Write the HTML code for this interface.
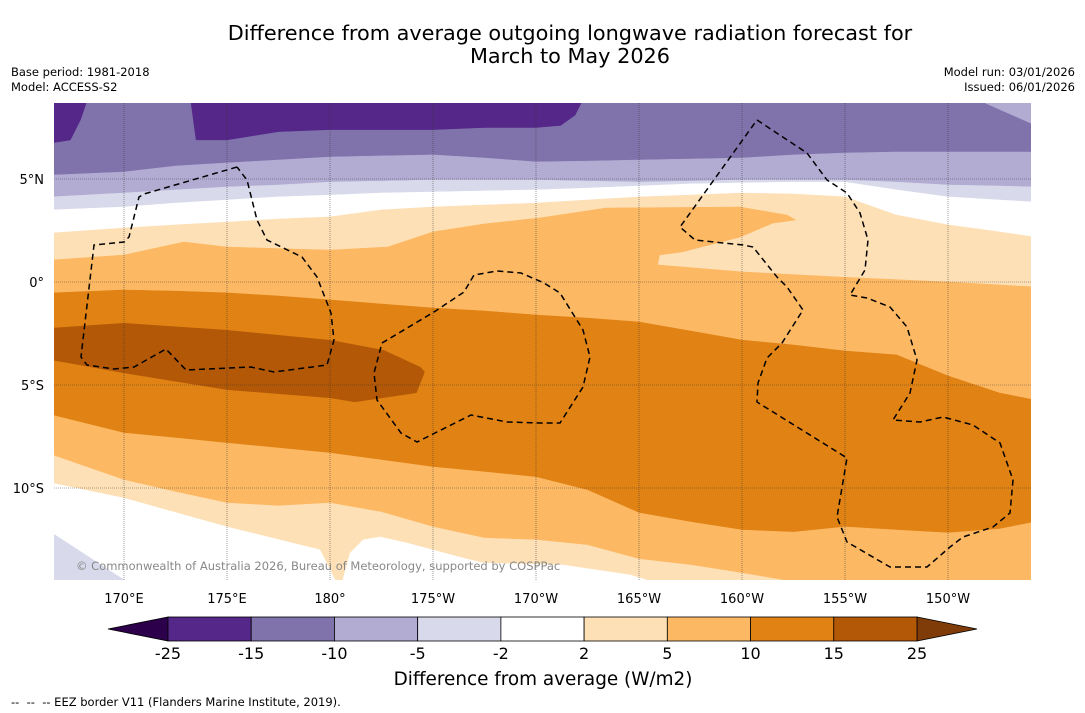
<!DOCTYPE html>
<html><head><meta charset="utf-8">
<style>
body{margin:0;background:#fff;font-family:"DejaVu Sans","Liberation Sans",sans-serif;}
#wrap{position:relative;width:1085px;height:713px;overflow:hidden;background:#fff;}
.t{position:absolute;white-space:nowrap;color:#000;}
</style></head>
<body>
<div id="wrap">
<div class="t" style="left:0;width:1140px;text-align:center;top:22px;font-size:20.8px;line-height:23px;">Difference from average outgoing longwave radiation forecast for<br>March to May 2026</div>
<div class="t" style="left:11px;top:65px;font-size:11.5px;line-height:15px;">Base period: 1981-2018<br>Model: ACCESS-S2</div>
<div class="t" style="right:10px;top:65px;font-size:11.5px;line-height:15px;text-align:right;">Model run: 03/01/2026<br>Issued: 06/01/2026</div>
<svg id="svg" width="1085" height="713" style="position:absolute;left:0;top:0"></svg>
<div class="t" style="left:11px;top:695px;font-size:11.5px;">-- &nbsp;-- &nbsp;-- EEZ border V11 (Flanders Marine Institute, 2019).</div>
</div>
<script>
// ---- data (lon in degrees east 0-360, lat in degrees) ----
const lonTicks=[170,175,180,185,190,195,200,205,210];
const lonTickLabels=["170°E","175°E","180°","175°W","170°W","165°W","160°W","155°W","150°W"];
const latTicks=[5,0,-5,-10];
const latTickLabels=["5°N","0°","5°S","10°S"];
const gridLons=[166.5,170,172.5,175,177.5,180,182.5,185,187.5,190,192.5,195,197.5,200,202.5,205,207.5,210,212.5,214.2];
const levels=[-25,-15,-10,-5,-2,2,5,10,15,25];
const bandColors=["#542788","#8073ac","#b2abd2","#d8daeb","#ffffff","#fee0b6","#fdb863","#e08214","#b35806"];
const dpLons=[166.5,167.4,167.9,168.3,173.2,173.5,175,177.5,180,182.5,185,187.5,190,191.2,191.9,192.4,214.5];
const dpLats=[6.75,6.9,7.9,9.1,9.1,6.9,6.9,7.3,7.4,7.4,7.4,7.5,7.5,7.6,8.1,9.1,9.1];
const trLons=[211.8,214,214.5];
const trLats=[8.69,7.72,7.6];
const c10Lats=[5.19,5.34,5.63,5.78,5.92,6.07,6.12,6.17,6.02,5.83,5.87,5.92,5.97,6.02,6.17,6.26,6.31,6.31,6.31,6.31];
const c5Lats=[4.13,4.32,4.47,4.61,4.71,4.85,4.90,4.95,4.95,4.95,4.90,4.85,4.90,4.95,4.95,4.95,4.85,4.71,4.66,4.61];
const c2Lats=[3.50,3.64,3.83,3.98,4.13,4.22,4.32,4.37,4.42,4.47,4.56,4.66,4.76,4.81,4.85,4.85,4.47,4.13,3.98,3.88];
const p2Lats=[2.38,2.62,2.77,2.91,3.06,3.16,3.50,3.64,3.74,3.83,3.98,4.13,4.22,4.32,4.27,4.13,3.25,2.77,2.43,2.18];
const p5Lons=[166.5,170,172.9,175,180,182.8,185,187.5,190.2,193.4,199.9,202.2,202.6,201.5,199.9,197.1,196.0,195.9,200,204.8,210,214.2];
const p5Lats=[1.07,1.31,1.94,1.70,1.55,1.70,2.43,2.82,3.11,3.59,3.64,3.25,3.01,2.86,2.18,1.46,1.31,0.83,0.49,0.24,0,-0.24];
const p10Lats=[-0.53,-0.39,-0.44,-0.53,-0.68,-0.87,-1.07,-1.26,-1.41,-1.60,-1.75,-1.94,-2.38,-2.82,-3.06,-3.35,-3.54,-4.56,-5.39,-5.73];
const p15Lons=[166.5,170,175,180.05,182.6,184.4,184.6,184.2,181.2,180.0,175,170,166.5];
const p15Lats=[-2.23,-1.99,-2.33,-2.82,-3.30,-4.13,-4.37,-5.39,-5.83,-5.63,-5.24,-4.42,-3.79];
const m10Lats=[-6.46,-7.33,-7.57,-7.82,-8.06,-8.30,-8.64,-8.98,-9.22,-9.47,-10.10,-11.21,-11.65,-12.04,-12.14,-11.89,-12.04,-12.18,-11.99,-11.65];
const m5Lats=[-8.40,-9.61,-10.19,-10.73,-10.87,-10.73,-11.17,-11.89,-12.43,-12.52,-12.77,-13.45,-13.74,-14.13,-14.56,-14.9,-14.9,-14.9,-14.9,-14.9];
const m2Lons=[166.5,170,175,179.51,180.49,180.97,181.60,182.43,183.74,186.46,187.43,191.31,194.56,196.17,214.47];
const m2Lats=[-9.76,-10.49,-11.89,-13.0,-14.95,-13.16,-12.52,-12.38,-12.67,-13.40,-13.64,-13.74,-14.22,-14.71,-14.95];
const mm2Lons=[166.5,170.15];
const mm2Lats=[-12.18,-14.56];

const X0=54,X1=1031,Y0=103,Y1=580;
const FONT='DejaVu Sans, Liberation Sans, sans-serif';
const xs=lon=>124+(lon-170)*20.6;
const ys=lat=>282-lat*20.6;
const NS="http://www.w3.org/2000/svg";
const svg=document.getElementById('svg');
function mk(tag,attrs,parent){const e=document.createElementNS(NS,tag);for(const k in attrs)e.setAttribute(k,attrs[k]);(parent||svg).appendChild(e);return e;}

const defs=mk('defs',{});
const cp=mk('clipPath',{id:'mapclip'},defs);
mk('rect',{x:X0,y:Y0,width:X1-X0,height:Y1-Y0},cp);
const g=mk('g',{'clip-path':'url(#mapclip)'});



const bg=mk('rect',{x:X0,y:Y0,width:X1-X0,height:Y1-Y0,fill:bandColors[1]},g);



function fill(lons,lats,dir,color,name){
  let d='';
  for(let i=0;i<lons.length;i++){d+=(i?'L':'M')+xs(lons[i]).toFixed(1)+','+ys(lats[i]).toFixed(1);}
  const yEdge=dir==='below'?Y1+20:Y0-20;
  d+='L'+xs(lons[lons.length-1]).toFixed(1)+','+yEdge+'L'+xs(lons[0]).toFixed(1)+','+yEdge+'Z';
  const p=mk('path',{d:d,fill:color,stroke:color,'stroke-width':0.5},g);
  
  
}
function closed(lons,lats,color,name){
  let d='';
  for(let i=0;i<lons.length;i++){d+=(i?'L':'M')+xs(lons[i]).toFixed(1)+','+ys(lats[i]).toFixed(1);}
  d+='Z';
  const p=mk('path',{d:d,fill:color},g);
  
  
}
fill(dpLons,dpLats,'above',bandColors[0],'band-minus25-minus15');
fill(trLons,trLats,'above',bandColors[2],'band-minus10-minus5-northeast');
fill(gridLons,c10Lats,'below',bandColors[2],'band-minus10-minus5');
fill(gridLons,c5Lats,'below',bandColors[3],'band-minus5-minus2');
fill(gridLons,c2Lats,'below',bandColors[4],'band-minus2-plus2');
fill(gridLons,p2Lats,'below',bandColors[5],'band-plus2-plus5');
fill(p5Lons,p5Lats,'below',bandColors[6],'band-plus5-plus10');
fill(gridLons,p10Lats,'below',bandColors[7],'band-plus10-plus15');
closed(p15Lons,p15Lats,bandColors[8],'band-plus15-plus25');
fill(gridLons,m10Lats,'below',bandColors[6],'band-plus5-plus10-south');
fill(gridLons,m5Lats,'below',bandColors[5],'band-plus2-plus5-south');
fill(m2Lons,m2Lats,'below',bandColors[4],'band-minus2-plus2-south');
fill(mm2Lons,mm2Lats,'below',bandColors[3],'band-minus5-minus2-south');

lonTicks.forEach((lon,i)=>{
  const l=mk('line',{x1:xs(lon),x2:xs(lon),y1:Y0,y2:Y1,stroke:'#333','stroke-width':0.6,'stroke-dasharray':'1,1','stroke-opacity':0.8},g);
  
  
  const t=mk('text',{x:xs(lon),y:603,'font-size':13,'text-anchor':'middle','font-family':FONT});
  t.textContent=lonTickLabels[i];
  
  
});
latTicks.forEach((lat,i)=>{
  const l=mk('line',{x1:X0,x2:X1,y1:ys(lat),y2:ys(lat),stroke:'#333','stroke-width':0.6,'stroke-dasharray':'1,1','stroke-opacity':0.8},g);
  
  
  const t=mk('text',{x:44,y:ys(lat)+5,'font-size':13,'text-anchor':'end','font-family':FONT});
  t.textContent=latTickLabels[i];
  
  
});

const eez=[
 [[237,167],[144,194],[139,197],[129,237],[124,242],[94,245],[81,357],[87,365],[114,369],[134,367],[166,349],[186,370],[251,367],[274,372],[327,365],[334,340],[331,313],[317,277],[302,257],[267,240],[257,220],[247,180],[237,167]],
 [[382,343],[434,312],[464,292],[474,275],[497,271],[521,273],[544,283],[560,293],[583,330],[590,357],[583,387],[560,423],[540,423],[507,422],[471,415],[417,442],[401,433],[377,400],[374,373],[382,343]],
 [[757,120],[807,153],[827,180],[847,193],[860,213],[868,240],[865,270],[850,295],[867,298],[890,307],[907,327],[917,360],[910,393],[893,420],[920,422],[943,417],[973,425],[1000,443],[1013,480],[1010,513],[993,527],[963,537],[950,547],[927,567],[890,567],[847,542],[837,517],[847,458],[757,402],[758,383],[767,358],[782,343],[803,310],[787,287],[777,277],[753,247],[743,245],[695,240],[680,227],[757,120]]
];
eez.forEach(pts=>{
  const p=mk('polyline',{points:pts.map(p=>p.join(',')).join(' '),fill:'none',stroke:'#000','stroke-width':1.5,'stroke-dasharray':'6,4'},g);
  
  
});
const cr=mk('text',{x:76,y:570,'font-size':11.5,fill:'#888','font-family':FONT},g);
cr.textContent='© Commonwealth of Australia 2026, Bureau of Meteorology, supported by COSPPac';



const cbX0=168,cbX1=917,cbY=617,cbH=24;
const segW=(cbX1-cbX0)/(levels.length-1);
const cb=mk('g',{});


const lt=mk('polygon',{points:`108,${cbY+cbH/2} ${cbX0},${cbY} ${cbX0},${cbY+cbH}`,fill:'#2d004b',stroke:'#000','stroke-width':0.8},cb);


const rt=mk('polygon',{points:`977,${cbY+cbH/2} ${cbX1},${cbY} ${cbX1},${cbY+cbH}`,fill:'#7f3b08',stroke:'#000','stroke-width':0.8},cb);


bandColors.forEach((c,i)=>{
  const r=mk('rect',{x:cbX0+i*segW,y:cbY,width:segW,height:cbH,fill:c,stroke:'#000','stroke-width':0.8},cb);
  
  
});
levels.forEach((v,i)=>{
  const t=mk('text',{x:cbX0+i*segW,y:659,'font-size':16,'text-anchor':'middle','font-family':FONT},cb);
  t.textContent=String(v);
  
  
});
const ct=mk('text',{x:543,y:685,'font-size':18.4,'text-anchor':'middle','font-family':FONT},cb);
ct.textContent='Difference from average (W/m2)';


</script>
</body></html>
